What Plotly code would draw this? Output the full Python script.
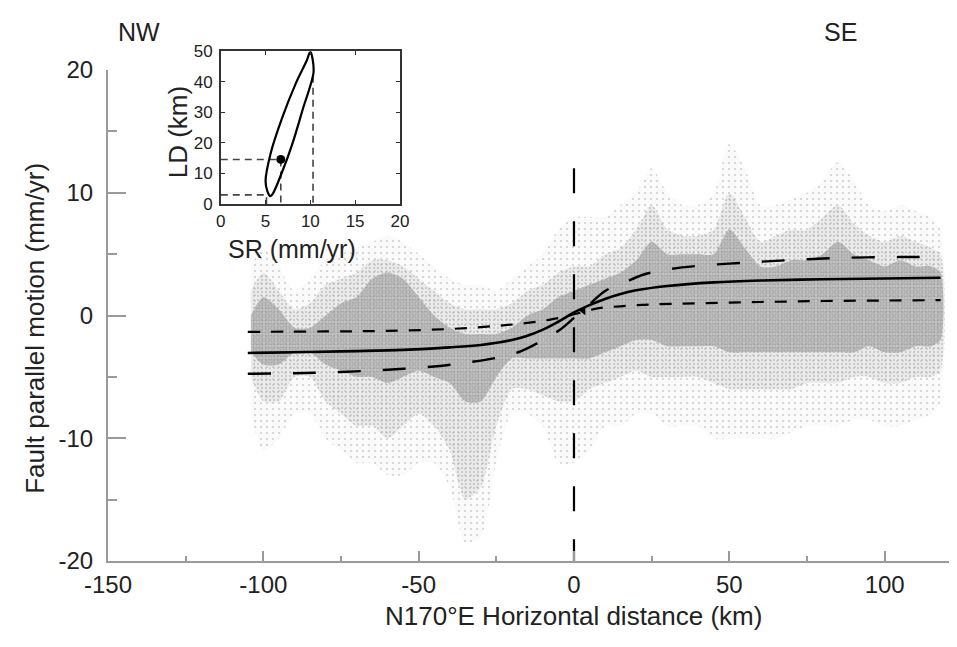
import plotly.graph_objects as go

# ---------------- data ----------------
# point cloud summarised per ~5 km bin: envelopes of sparse / moderate / dense points (mm/yr)
cloud_x = [-104, -100, -95, -90, -85, -80, -75, -70, -65, -60, -55, -50, -45, -40, -35, -30,
           -25, -20, -15, -10, -5, 0, 5, 10, 15, 20, 25, 30, 35, 40, 45, 50, 55, 60, 65, 70,
           75, 80, 85, 90, 95, 100, 105, 110, 115, 118]
outer_hi = [4, 5.5, 4, 2, 3, 4.5, 5, 5.5, 6, 6.5, 6, 5, 4, 3, 2.5, 2.5, 2, 3, 4, 5, 7, 8, 8, 8,
            9, 10, 12, 10, 9, 9, 10, 14, 12, 9, 9, 9.5, 10, 11, 12.5, 11, 9, 8.5, 9, 8.5, 8, 7]
outer_lo = [-8, -11, -10, -8, -8, -10, -11, -12, -12, -13, -13, -12, -12, -14, -18.5, -18, -12,
            -8, -8, -9, -12, -12, -11, -9, -9, -8, -8, -9, -9, -9, -10, -10, -10, -10, -10,
            -9.5, -9, -9, -9, -8.5, -8.5, -9, -9, -8.5, -8, -7]
mid_hi = [2, 3.5, 2, 0.5, 1, 2.5, 3, 3.5, 4.5, 4.5, 4, 3, 2, 1, 0.5, 0.5, 0.5, 1, 2, 2.5, 3.5,
          4, 4, 5, 5.5, 7, 9, 7, 6.5, 6.5, 7, 10, 8, 6, 6.5, 7, 7, 8, 9, 7.5, 6.5, 6, 6.5, 6, 5.5, 5]
mid_lo = [-5, -7, -7, -5, -5, -7, -8, -9, -9, -10, -9, -8, -9, -11, -15, -14, -9, -6, -6, -6.5,
          -7, -7, -6, -5.5, -5, -4.5, -5, -5, -5, -5, -5.5, -6, -6, -6, -6, -6, -5.5, -5.5,
          -5.5, -5, -5, -5.5, -5.5, -5, -5, -4.5]
core_hi = [0, 1.5, 0.5, -1, -1, 0, 1, 1.5, 3, 3.5, 3, 1.5, 0, -1, -1.5, -1.5, -1.5, -1, 0, 0.5,
           1.5, 2, 2.5, 3, 3.5, 4.5, 6, 5, 5, 5, 5, 7, 5.5, 4, 4, 4.5, 4.5, 5, 6, 5, 4.5, 4,
           4.5, 4, 4, 3.5]
core_lo = [-3, -4, -4, -3, -3, -4, -4.5, -5, -5, -5.5, -5, -4.5, -5, -5.5, -7, -7, -5, -3.5,
           -3.5, -3.5, -3.5, -3.5, -3.5, -3, -2.5, -2, -2, -2.5, -2.5, -2.5, -2.5, -3, -3, -3,
           -3, -3, -3, -3, -3, -3, -2.5, -3, -3, -2.5, -2.5, -2]

# best-fit model curve (solid)
fit_x = [-105, -85, -70, -55, -40, -30, -20, -15, -10, -5, 0, 5, 10, 15, 20, 30, 45, 60, 80, 100, 118]
fit_v = [-3.05, -2.97, -2.9, -2.8, -2.6, -2.4, -2.0, -1.65, -1.15, -0.5, 0.25, 0.85, 1.35, 1.75,
         2.05, 2.4, 2.7, 2.85, 2.95, 3.02, 3.07]
# lower bound model (short dashes)
low_x = [-105, -80, -60, -40, -25, -15, -8, -3, 0, 3, 8, 15, 25, 40, 60, 80, 100, 118]
low_v = [-1.33, -1.3, -1.25, -1.1, -0.85, -0.6, -0.35, -0.1, 0.1, 0.3, 0.6, 0.75, 0.9, 1.0,
         1.1, 1.18, 1.22, 1.25]
# upper bound model (long dashes)
high_x = [-105, -90, -75, -60, -45, -35, -25, -17, -10, -5, 0, 5, 10, 16, 22, 30, 40, 55, 70, 87, 105, 118]
high_v = [-4.75, -4.7, -4.6, -4.42, -4.15, -3.85, -3.45, -2.9, -2.0, -1.25, -0.2, 0.9, 2.0, 2.65,
          3.3, 3.75, 4.05, 4.3, 4.52, 4.7, 4.76, 4.78]
# fault trace
fault_x = [0, 0]
fault_y = [12, -20]
# fit-centre mark
centre_x = [3]
centre_y = [0.4]

# inset: confidence ellipse of slip rate (SR) vs locking depth (LD)
ell_sr = [10.0, 10.25, 10.35, 9.15, 8.0, 6.9, 5.75, 5.5, 5.2, 5.0, 5.55, 6.9, 8.4, 9.6, 10.0]
ell_ld = [50, 47.5, 43, 31, 19.8, 10.9, 3.1, 2.6, 4.2, 7.5, 16.4, 28.6, 39.7, 47, 50]
best_sr, best_ld = 6.7, 14.6
min_sr, min_ld = 5.1, 3.0
max_sr, max_ld = 10.3, 42.0

x_ticks = [-150, -100, -50, 0, 50, 100]
x_ticktext = ["-150", "-100", "-50", "0", "50", "100"]
y_ticks = [-20, -10, 0, 10, 20]
y_ticktext = ["-20", "-10", "0", "10", "20"]
sr_ticks = [0, 5, 10, 15, 20]
ld_ticks = [0, 10, 20, 30, 40, 50]

# ---------------- layout geometry ----------------
W, H = 957, 647
ML, MR, MT, MB = 100, 3, 30, 94
PW, PH = W - ML - MR, H - MT - MB


def px(x):
    return (x - ML) / PW


def py(y):
    return (H - MB - y) / PH


FONT = "Liberation Sans, Arial, sans-serif"
AX = "#9a9a9a"

fig = go.Figure()


def band(lo, hi, fg, bg, size, solidity):
    fig.add_trace(go.Scatter(
        x=cloud_x + cloud_x[::-1], y=hi + lo[::-1], mode="lines",
        line=dict(width=0, shape="spline", smoothing=0.7),
        fill="toself", fillcolor=bg,
        fillpattern=dict(shape=".", fgcolor=fg, bgcolor=bg, size=size, solidity=solidity),
        hoverinfo="skip", showlegend=False, xaxis="x", yaxis="y"))


band(outer_lo, outer_hi, "#a3a3a3", "rgba(215,215,215,0.12)", 6, 0.10)
band(mid_lo, mid_hi, "#9a9a9a", "rgba(200,200,200,0.3)", 4, 0.22)
band(core_lo, core_hi, "#8e8e8e", "rgba(160,160,160,0.55)", 3, 0.35)

# model curves
fig.add_trace(go.Scatter(x=low_x, y=low_v, mode="lines",
                         line=dict(color="black", width=2.2, dash="12px,11px", shape="spline"),
                         showlegend=False))
fig.add_trace(go.Scatter(x=high_x, y=high_v, mode="lines",
                         line=dict(color="black", width=2.4, dash="23px,22px", shape="spline"),
                         showlegend=False))
fig.add_trace(go.Scatter(x=fit_x, y=fit_v, mode="lines",
                         line=dict(color="black", width=2.6, shape="spline"),
                         showlegend=False))
fig.add_trace(go.Scatter(x=fault_x, y=fault_y, mode="lines",
                         line=dict(color="black", width=2.2, dash="25px,28px"),
                         showlegend=False))
fig.add_trace(go.Scatter(x=centre_x, y=centre_y, mode="markers",
                         marker=dict(symbol="triangle-left", size=8, color="black"),
                         showlegend=False))

# inset
g = "#444444"
fig.add_trace(go.Scatter(x=[0, best_sr, best_sr], y=[best_ld, best_ld, 0], mode="lines",
                         line=dict(color=g, width=1.6, dash="7px,5px"),
                         xaxis="x2", yaxis="y2", showlegend=False))
fig.add_trace(go.Scatter(x=[0, min_sr, min_sr], y=[min_ld, min_ld, 0], mode="lines",
                         line=dict(color=g, width=1.6, dash="7px,5px"),
                         xaxis="x2", yaxis="y2", showlegend=False))
fig.add_trace(go.Scatter(x=[max_sr, max_sr], y=[max_ld, 0], mode="lines",
                         line=dict(color=g, width=1.6, dash="7px,5px"),
                         xaxis="x2", yaxis="y2", showlegend=False))
fig.add_trace(go.Scatter(x=ell_sr, y=ell_ld, mode="lines",
                         line=dict(color="black", width=2.2, shape="spline", smoothing=0.9),
                         xaxis="x2", yaxis="y2", showlegend=False))
fig.add_trace(go.Scatter(x=[best_sr], y=[best_ld], mode="markers",
                         marker=dict(color="black", size=9),
                         xaxis="x2", yaxis="y2", showlegend=False))

tickfont = dict(family=FONT, size=24, color="#222")
fig.update_layout(
    width=W, height=H,
    margin=dict(l=ML, r=MR, t=MT, b=MB),
    paper_bgcolor="white", plot_bgcolor="rgba(0,0,0,0)",
    showlegend=False,
    xaxis=dict(domain=[0, 1], range=[-150, 122], anchor="y",
               tickmode="array", tickvals=x_ticks, ticktext=x_ticktext,
               ticks="inside", ticklen=10, tickwidth=1.5, tickcolor=AX,
               minor=dict(ticks="inside", tickmode="linear", tick0=0, dtick=25, ticklen=5,
                          tickwidth=1.5, tickcolor=AX),
               showline=True, linecolor=AX, linewidth=2, showgrid=False, zeroline=False,
               tickfont=tickfont, ticklabelstandoff=1),
    yaxis=dict(domain=[0, py(62)], range=[-20, 20], anchor="x",
               tickmode="array", tickvals=y_ticks, ticktext=y_ticktext,
               ticks="inside", ticklen=18, tickwidth=1.5, tickcolor=AX,
               minor=dict(ticks="inside", tickmode="linear", tick0=0, dtick=5, ticklen=9,
                          tickwidth=1.5, tickcolor=AX),
               showline=True, linecolor=AX, linewidth=2, showgrid=False, zeroline=False,
               tickfont=tickfont, ticklabelstandoff=8),
    xaxis2=dict(domain=[px(214), px(395)], range=[0, 20], anchor="y2",
                tickmode="array", tickvals=sr_ticks, ticks="inside", ticklen=4,
                tickcolor="#333", showline=True, linecolor="#333", linewidth=1.5,
                mirror="ticks", showgrid=False, zeroline=False,
                tickfont=dict(family=FONT, size=17, color="#222"), ticklabelstandoff=1),
    yaxis2=dict(domain=[py(196), py(43.4)], range=[0, 50], anchor="x2",
                tickmode="array", tickvals=ld_ticks, ticks="inside", ticklen=4,
                tickcolor="#333", showline=True, linecolor="#333", linewidth=1.5,
                mirror="ticks", showgrid=False, zeroline=False,
                tickfont=dict(family=FONT, size=17, color="#222"), ticklabelstandoff=3),
)

ann = dict(xref="paper", yref="paper", showarrow=False, xanchor="center", yanchor="middle")
fig.add_annotation(text="NW", x=px(131), y=py(24), font=dict(family=FONT, size=25, color="#222"), **ann)
fig.add_annotation(text="SE", x=px(840), y=py(24), font=dict(family=FONT, size=25, color="#222"), **ann)
fig.add_annotation(text="Fault parallel motion (mm/yr)", x=px(26), y=py(320), textangle=-90,
                   font=dict(family=FONT, size=26, color="#222"), **ann)
fig.add_annotation(text="N170°E Horizontal distance (km)", x=px(570), y=py(608),
                   font=dict(family=FONT, size=26, color="#222"), **ann)
fig.add_annotation(text="SR (mm/yr)", x=px(286), y=py(241),
                   font=dict(family=FONT, size=25, color="#222"), **ann)
fig.add_annotation(text="LD (km)", x=px(171), y=py(124), textangle=-90,
                   font=dict(family=FONT, size=26, color="#222"), **ann)

fig.write_html("out.html")
